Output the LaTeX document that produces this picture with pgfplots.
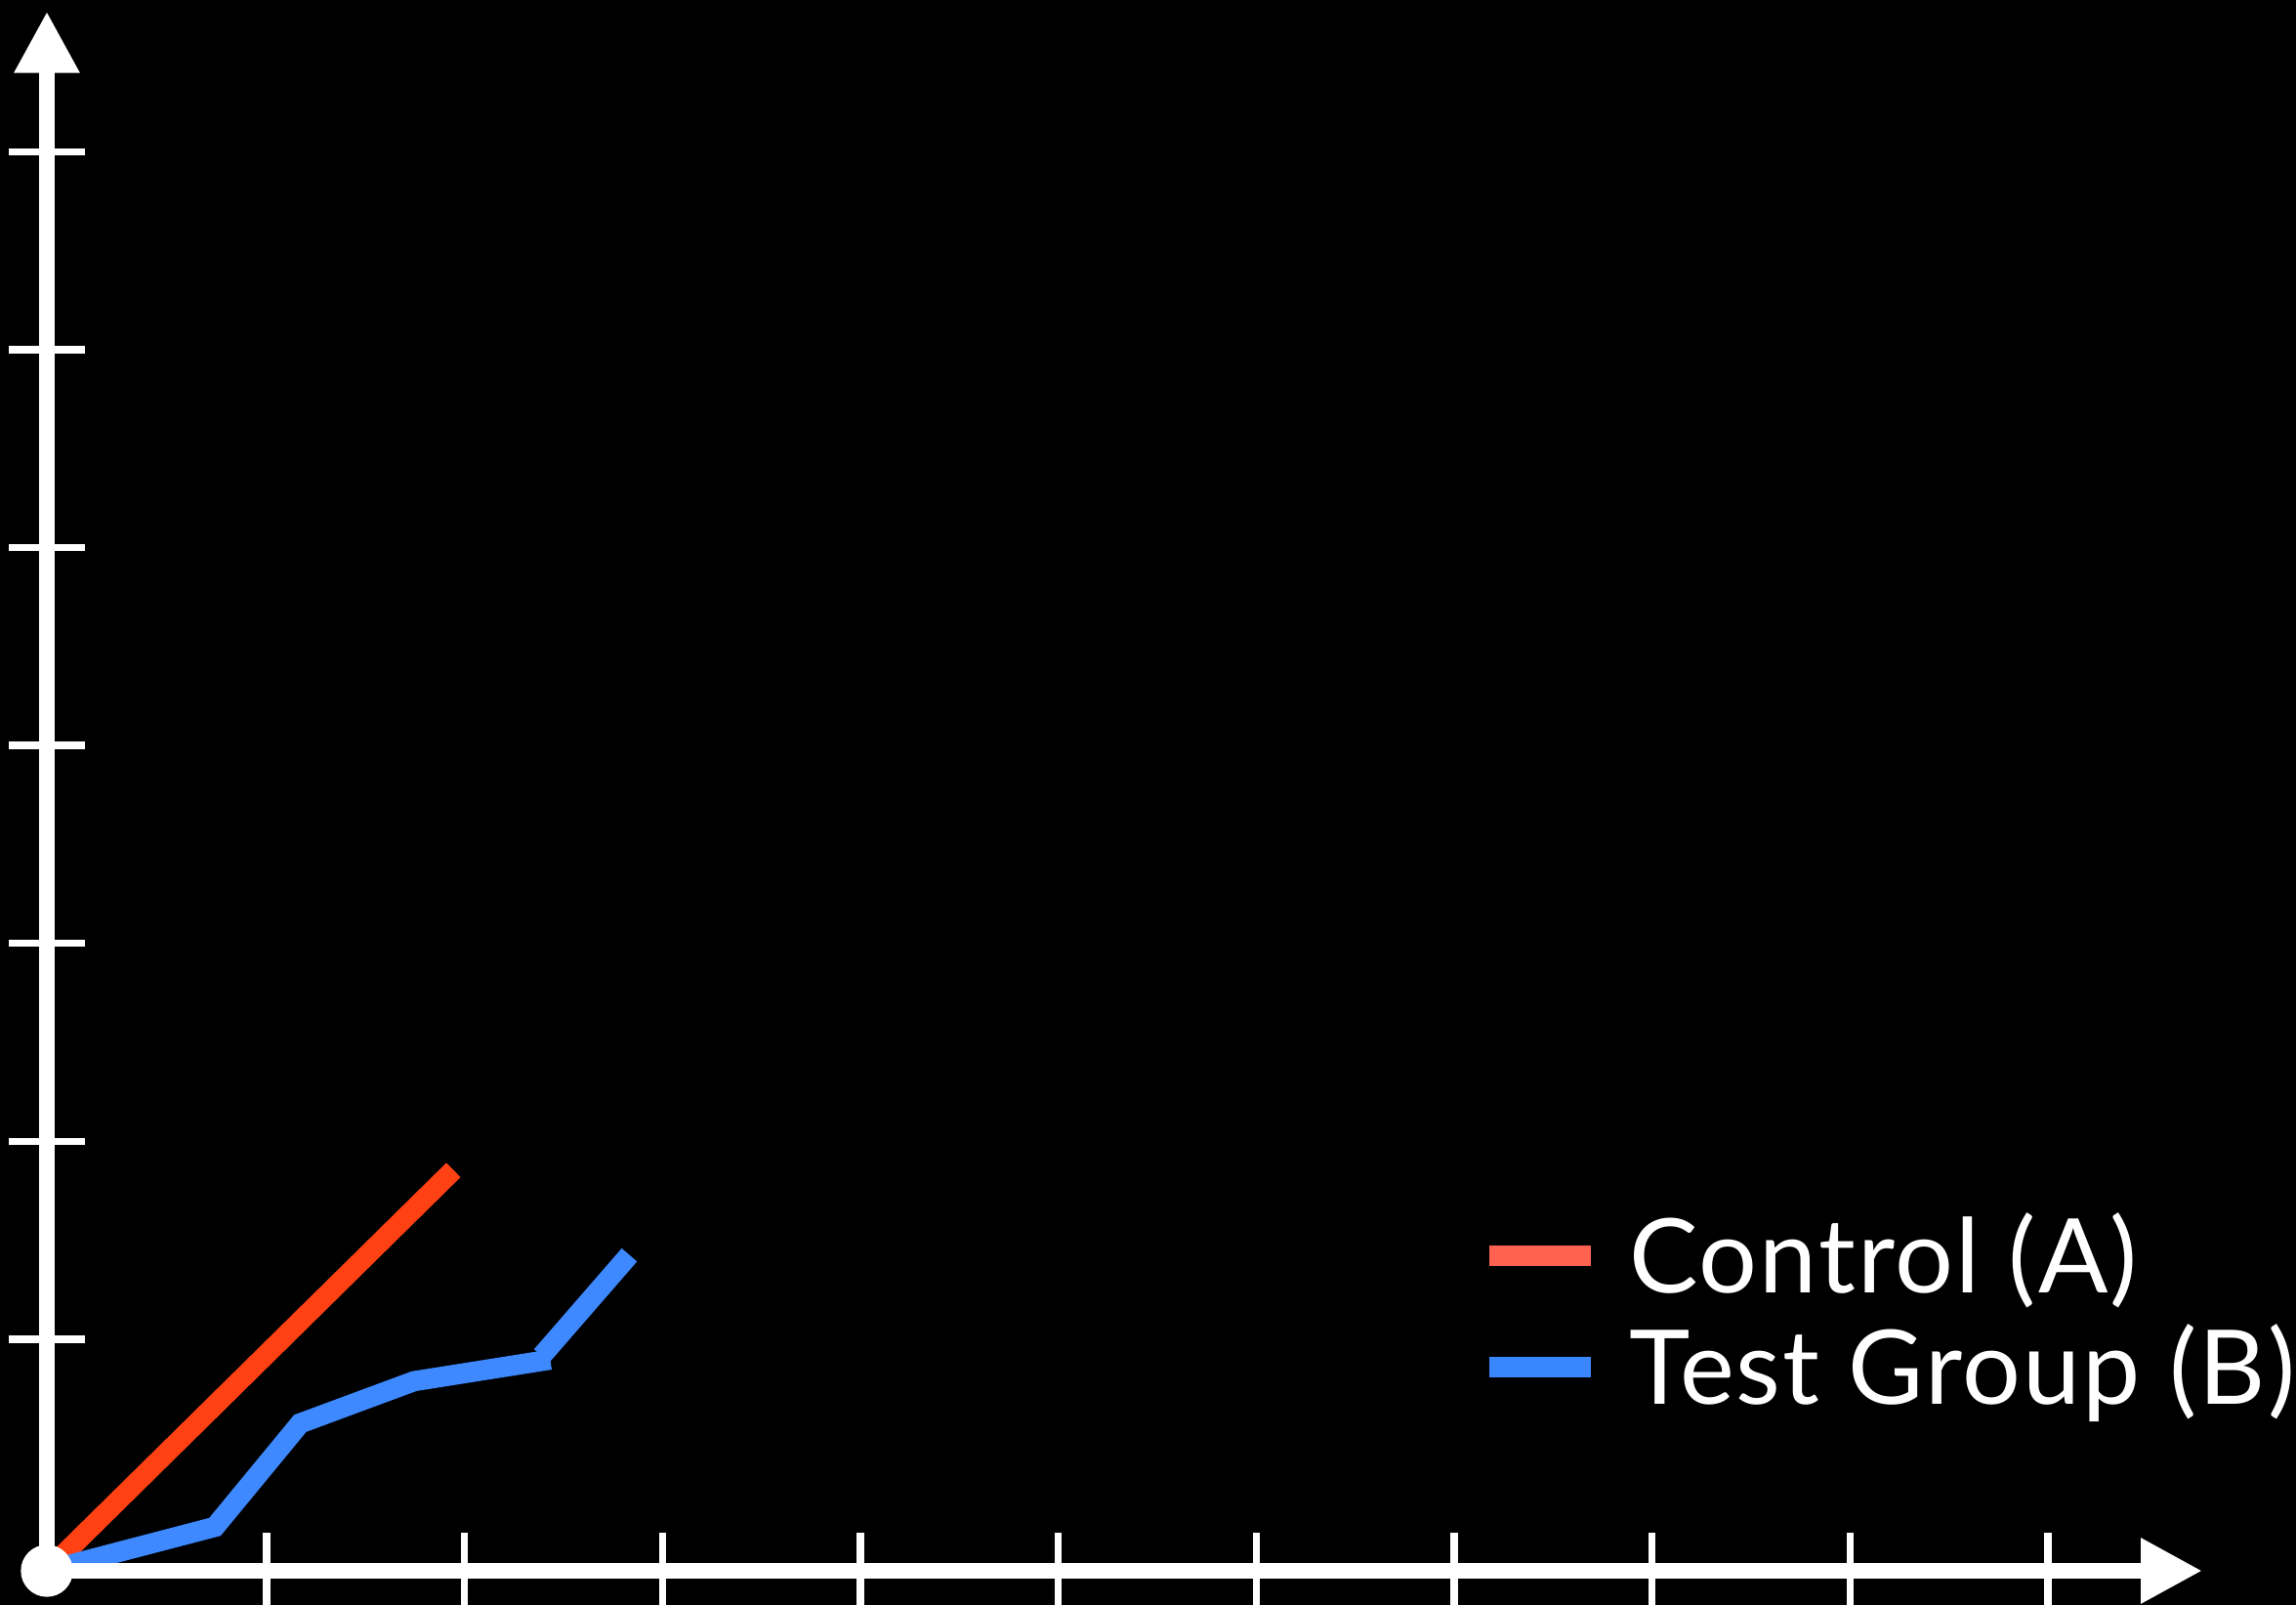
\documentclass[border=0pt]{standalone}
\usepackage{fontspec}
\setmainfont{Lato}[LetterSpace=2]
\usepackage{pgfplots}
\pgfplotsset{compat=1.18}
\usetikzlibrary{arrows.meta}

\definecolor{ctrlline}{RGB}{255,65,19}
\definecolor{testline}{RGB}{62,137,255}
\definecolor{ctrlkey}{RGB}{255,98,80}
\definecolor{testkey}{RGB}{58,134,255}

\begin{document}
\begin{tikzpicture}
\useasboundingbox (0,0) rectangle (705.3pt,492.9pt);
\fill[black] (0,0) rectangle (705.3pt,492.9pt);
\begin{axis}[
  at={(14.4pt,10.5pt)}, anchor=origin,
  x=60.8pt, y=60.78pt,
  xmin=0, xmax=10.890, ymin=0, ymax=7.879,
  axis x line=bottom, axis y line=left,
  axis line style={white, line width=4.6pt, -{Triangle[length=18.9pt,width=18.9pt]}},
  xtick={1.11,2.11,3.11,4.11,5.11,6.11,7.11,8.11,9.11,10.11},
  ytick={1.17,2.17,3.17,4.17,5.17,6.17,7.17},
  xticklabels={}, yticklabels={},
  tick align=center, major tick length=23.4pt,
  tick style={white, line width=2.25pt},
  axis on top, clip=false,
  legend cell align=left,
  legend style={draw=none, fill=none, text=white,
    font=\fontsize{31.7pt}{34pt}\selectfont,
    at={(axis cs:7.288,1.80)}, anchor=north west,
    inner sep=0pt, outer sep=0pt, row sep=0pt,
    nodes={inner sep=0pt, text height=24pt, text depth=10.2pt},
    /tikz/every odd column/.append style={column sep=11.8pt}},
]
% Control (A)
\addplot[ctrlline, line width=6.2pt,
  legend image code/.code={\path[fill=ctrlkey, draw=none] (0pt,1.15pt) rectangle (31.2pt,7.45pt);}]
  coordinates {(0,0) (2.054,2.025)};
\addlegendentry{Control (A)}
% Test Group (B), drawn in two strokes
\addplot[testline, line width=6.2pt,
  legend image code/.code={\path[fill=testkey, draw=none] (0pt,1.15pt) rectangle (31.2pt,7.45pt);}]
  coordinates {(0,0) (0.849,0.222) (1.280,0.745) (1.855,0.958) (2.543,1.067)};
\addlegendentry{Test Group (B)}
\addplot[testline, line width=6.2pt, forget plot]
  coordinates {(2.500,1.086) (2.943,1.596)};
% origin dot
\addplot[only marks, mark=*, mark size=7.8pt, white, mark options={draw=none, fill=white}, forget plot]
  coordinates {(0,0)};
\end{axis}
\end{tikzpicture}
\end{document}
